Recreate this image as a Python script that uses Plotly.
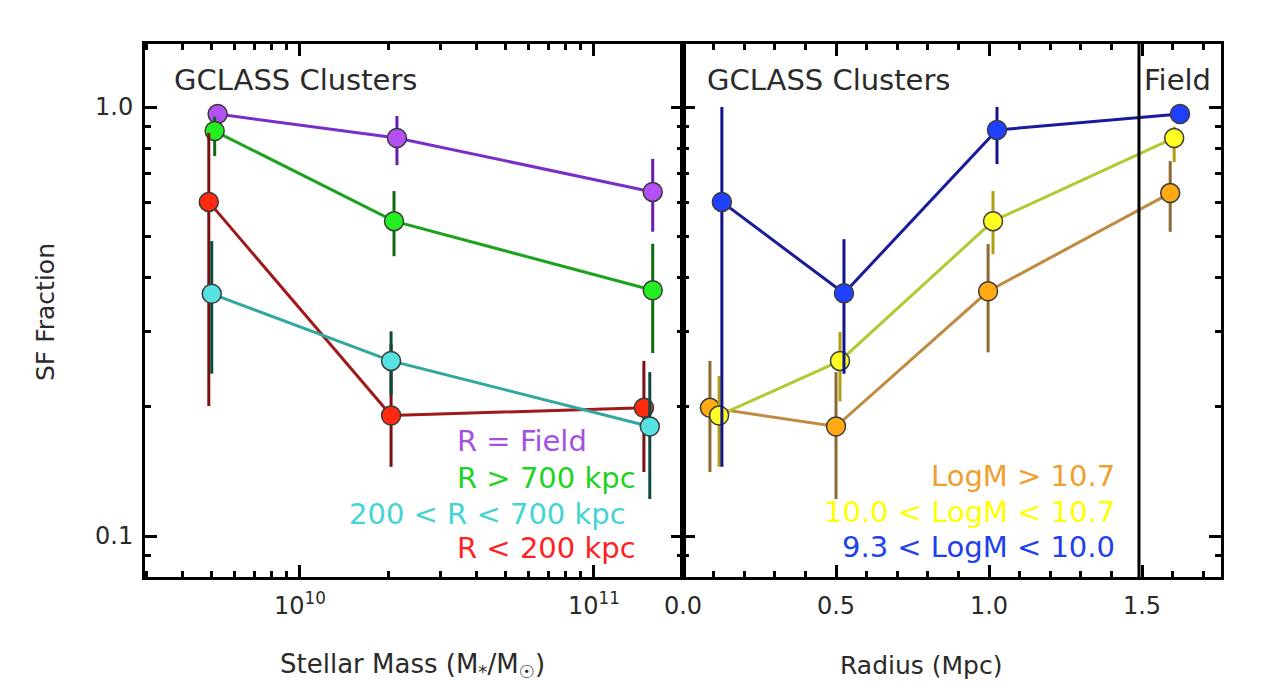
import plotly.graph_objects as go
from plotly.subplots import make_subplots

# ---------------- data ----------------
# Left panel: SF fraction vs log10 stellar mass, by cluster-centric radius
field_logm = [9.72, 10.33, 11.20]
field_frac = [0.963, 0.847, 0.634]
field_hi = [0.963, 0.953, 0.757]
field_lo = [0.963, 0.732, 0.512]

outer_logm = [9.71, 10.32, 11.20]
outer_frac = [0.879, 0.542, 0.374]
outer_hi = [0.95, 0.637, 0.48]
outer_lo = [0.769, 0.449, 0.267]

core_logm = [9.69, 10.31, 11.17]
core_frac = [0.601, 0.191, 0.199]
core_hi = [0.87, 0.28, 0.256]
core_lo = [0.201, 0.145, 0.141]

mid_logm = [9.70, 10.31, 11.19]
mid_frac = [0.367, 0.256, 0.180]
mid_hi = [0.487, 0.30, 0.241]
mid_lo = [0.239, 0.213, 0.122]

# Right panel: SF fraction vs radius (Mpc), by stellar-mass bin
high_r = [0.088, 0.50, 0.997, 1.592]
high_frac = [0.199, 0.180, 0.372, 0.630]
high_hi = [0.256, 0.241, 0.479, 0.748]
high_lo = [0.141, 0.122, 0.268, 0.512]

midm_r = [0.118, 0.513, 1.013, 1.605]
midm_frac = [0.191, 0.256, 0.542, 0.847]
midm_hi = [0.236, 0.299, 0.637, 0.90]
midm_lo = [0.145, 0.206, 0.454, 0.744]

low_r = [0.127, 0.526, 1.026, 1.624]
low_frac = [0.601, 0.368, 0.884, 0.963]
low_hi = [1.0, 0.492, 1.0, 0.963]
low_lo = [0.145, 0.239, 0.736, 0.963]

left_labels = ["R = Field", "R > 700 kpc", "200 < R < 700 kpc", "R < 200 kpc"]
right_labels = ["LogM > 10.7", "10.0 < LogM < 10.7", "9.3 < LogM < 10.0"]
field_divider_r = 1.49

y_major = [0.1, 1.0]
y_major_text = ["0.1", "1.0"]
y_minor = [0.09, 0.2, 0.3, 0.4, 0.5, 0.6, 0.7, 0.8, 0.9]
mass_major = [1e10, 1e11]
mass_major_text = ["10<sup>10</sup>", "10<sup>11</sup>"]
mass_minor = [3e9, 4e9, 5e9, 6e9, 7e9, 8e9, 9e9,
              2e10, 3e10, 4e10, 5e10, 6e10, 7e10, 8e10, 9e10, 2e11]
r_major = [0.0, 0.5, 1.0, 1.5]
r_major_text = ["0.0", "0.5", "1.0", "1.5"]

FONT = "DejaVu Sans"
TXT = "#2a2a2a"

fig = make_subplots(rows=1, cols=2, shared_yaxes=False, horizontal_spacing=0)


def add_series(x, y, hi, lo, line_c, fill_c, err_c, col):
    plus = [h - v for h, v in zip(hi, y)]
    minus = [v - l for v, l in zip(y, lo)]
    fig.add_trace(go.Scatter(
        x=x, y=y, mode="lines+markers",
        line=dict(color=line_c, width=3),
        marker=dict(size=19, color=fill_c, line=dict(color="#3a3a3a", width=1.5)),
        error_y=dict(type="data", array=plus, arrayminus=minus, symmetric=False,
                     color=err_c, thickness=3, width=0),
        showlegend=False, hoverinfo="skip"), row=1, col=col)


add_series([10 ** v for v in field_logm], field_frac, field_hi, field_lo,
           "#7a2ec8", "#b450f4", "#6a1ab0", 1)
add_series([10 ** v for v in outer_logm], outer_frac, outer_hi, outer_lo,
           "#1ca21c", "#22ee22", "#0f6a14", 1)
add_series([10 ** v for v in core_logm], core_frac, core_hi, core_lo,
           "#a01818", "#ff2a10", "#7a1010", 1)
add_series([10 ** v for v in mid_logm], mid_frac, mid_hi, mid_lo,
           "#30a8a0", "#55e2e0", "#0c4a40", 1)

add_series(high_r, high_frac, high_hi, high_lo, "#c08a40", "#ffaa14", "#8a6a30", 2)
add_series(midm_r, midm_frac, midm_hi, midm_lo, "#b4c834", "#ffff22", "#b0a010", 2)
add_series(low_r, low_frac, low_hi, low_lo, "#1a1a9a", "#2040ff", "#12128a", 2)

common = dict(showline=True, linecolor="black", linewidth=3, mirror="ticks",
              ticks="inside", ticklen=12, tickwidth=2.5, tickcolor="black",
              showgrid=False, zeroline=False,
              tickfont=dict(family=FONT, size=24, color=TXT))

ylo, yhi = -1.0955, 0.1469
fig.update_yaxes(type="log", range=[ylo, yhi], tickvals=y_major, ticktext=y_major_text,
                 minor=dict(tickvals=y_minor, ticks="inside", ticklen=6,
                            tickwidth=2.5, tickcolor="black"),
                 ticklabelstandoff=4, **common, row=1, col=1)
fig.update_yaxes(type="log", range=[ylo, yhi], tickvals=y_major, showticklabels=False,
                 minor=dict(tickvals=y_minor, ticks="inside", ticklen=6,
                            tickwidth=2.5, tickcolor="black"),
                 **common, row=1, col=2)
fig.update_xaxes(type="log", range=[9.473, 11.303], tickvals=mass_major,
                 ticktext=mass_major_text,
                 minor=dict(tickvals=mass_minor, ticks="inside", ticklen=6,
                            tickwidth=2.5, tickcolor="black"),
                 ticklabelstandoff=5, **common, row=1, col=1)
fig.update_xaxes(range=[0, 1.758], tickvals=r_major, ticktext=r_major_text,
                 minor=dict(dtick=0.1, ticks="inside", ticklen=6,
                            tickwidth=2.5, tickcolor="black"),
                 ticklabelstandoff=5, **common, row=1, col=2)

# Field / cluster divider
fig.add_shape(type="line", xref="x2", yref="y2 domain", x0=field_divider_r,
              x1=field_divider_r, y0=0, y1=1, line=dict(color="black", width=3))

# page-pixel frame of the plotting area (the page body adds an 8px offset)
OFF = 8
L, R, T, B = 145, 1221, 44, 577
W, H = R - L, B - T


def px(xp):
    return (xp - L) / W


def py(yp):
    return (B - yp) / H


def note(text, xp, yp, anchor, color=TXT, size=29, angle=0):
    fig.add_annotation(text=text, x=px(xp), y=py(yp), xref="paper", yref="paper",
                       xanchor=anchor, yanchor="middle", showarrow=False,
                       textangle=angle, font=dict(family=FONT, size=size, color=color))


note("GCLASS Clusters", 172, 80, "left")
note("GCLASS Clusters", 705, 80, "left")
note("Field", 1213, 80, "right")

left_cols = ["#a450e6", "#22d222", "#44d4d2", "#ff2222"]
note(left_labels[0], 455, 441, "left", left_cols[0])
note(left_labels[1], 455, 478, "left", left_cols[1])
note(left_labels[2], 628, 514, "right", left_cols[2])
note(left_labels[3], 455, 548, "left", left_cols[3])

right_cols = ["#f0a030", "#ffff00", "#2040f0"]
note(right_labels[0], 1117, 476, "right", right_cols[0])
note(right_labels[1], 1117, 512, "right", right_cols[1])
note(right_labels[2], 1117, 547, "right", right_cols[2])

note("Stellar Mass (M<sub>*</sub>/M<sub>☉</sub>)", 412, 665, "center", size=26)
note("Radius (Mpc)", 921, 665, "center", size=25)
note("SF Fraction", 45, 312, "center", size=25, angle=-90)

ml = L - OFF
mt = T - OFF
fig.update_layout(width=1280, height=696,
                  margin=dict(l=ml, r=1280 - ml - W, t=mt, b=696 - mt - H),
                  paper_bgcolor="white", plot_bgcolor="white",
                  font=dict(family=FONT, color=TXT))
fig.layout.xaxis.domain = [0, 0.5]
fig.layout.xaxis2.domain = [0.5, 1]

fig.write_html("out.html")
